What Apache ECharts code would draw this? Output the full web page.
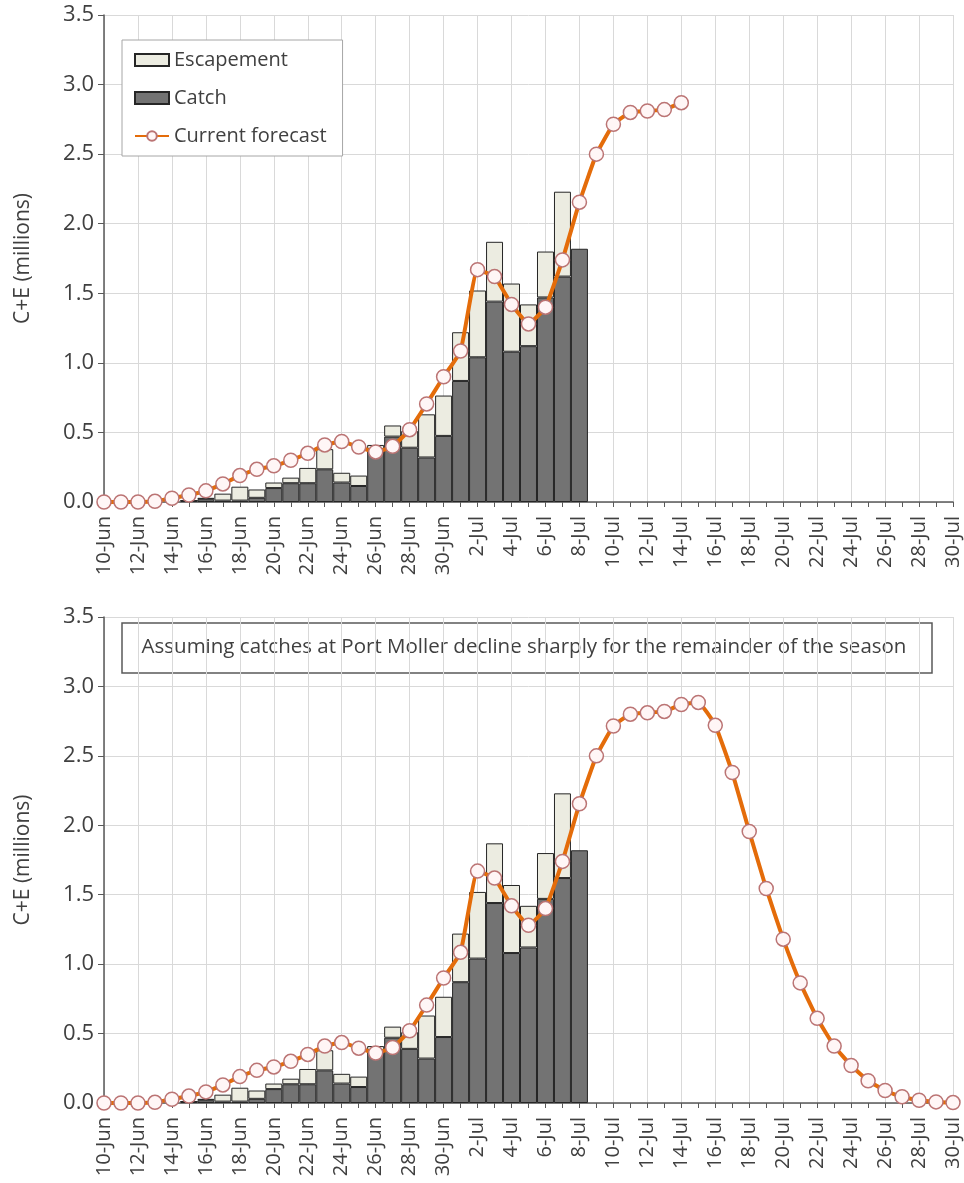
<!DOCTYPE html>
<html>
<head>
<meta charset="utf-8">
<script src="https://cdn.jsdelivr.net/npm/echarts@6/dist/echarts.min.js"></script>
<style>
  html, body { margin: 0; padding: 0; background: #fff; }
  #chart { width: 964px; height: 1183px; }
</style>
</head>
<body>
<div id="chart"></div>
<script>
const dates = [
  '10-Jun', '11-Jun', '12-Jun', '13-Jun', '14-Jun', '15-Jun', '16-Jun', '17-Jun', '18-Jun', '19-Jun',
  '20-Jun', '21-Jun', '22-Jun', '23-Jun', '24-Jun', '25-Jun', '26-Jun', '27-Jun', '28-Jun', '29-Jun',
  '30-Jun', '1-Jul', '2-Jul', '3-Jul', '4-Jul', '5-Jul', '6-Jul', '7-Jul', '8-Jul', '9-Jul',
  '10-Jul', '11-Jul', '12-Jul', '13-Jul', '14-Jul', '15-Jul', '16-Jul', '17-Jul', '18-Jul', '19-Jul',
  '20-Jul', '21-Jul', '22-Jul', '23-Jul', '24-Jul', '25-Jul', '26-Jul', '27-Jul', '28-Jul', '29-Jul',
  '30-Jul'
];

// millions of fish, 10-Jun .. 8-Jul (nothing after)
const catchVals = [
  null, null, null, null, null, 0.01, 0.02, 0.01, 0.01, 0.03,
  0.10, 0.135, 0.135, 0.235, 0.14, 0.115, 0.38, 0.47, 0.39, 0.32,
  0.475, 0.87, 1.04, 1.44, 1.08, 1.12, 1.47, 1.62, 1.82
];
const escapementVals = [
  null, null, null, null, null, 0.0, 0.01, 0.05, 0.10, 0.06,
  0.04, 0.04, 0.11, 0.145, 0.07, 0.075, 0.03, 0.08, 0.12, 0.31,
  0.29, 0.35, 0.48, 0.43, 0.49, 0.30, 0.33, 0.61, null
];

// current forecast, 10-Jun .. 14-Jul
const forecastCurrent = [
  0, 0, 0, 0.005, 0.027, 0.05, 0.08, 0.13, 0.19, 0.235,
  0.26, 0.30, 0.35, 0.41, 0.435, 0.395, 0.36, 0.40, 0.52, 0.705,
  0.90, 1.085, 1.67, 1.62, 1.42, 1.28, 1.40, 1.74, 2.155, 2.50,
  2.715, 2.80, 2.81, 2.82, 2.87
];

// forecast if Port Moller catches decline sharply, 10-Jun .. 30-Jul
const forecastDecline = [
  0, 0, 0, 0.005, 0.027, 0.05, 0.08, 0.13, 0.19, 0.235,
  0.26, 0.30, 0.35, 0.41, 0.435, 0.395, 0.36, 0.40, 0.52, 0.705,
  0.90, 1.085, 1.67, 1.62, 1.42, 1.28, 1.40, 1.74, 2.155, 2.50,
  2.715, 2.80, 2.81, 2.82, 2.87, 2.885, 2.72, 2.38, 1.955, 1.545,
  1.18, 0.865, 0.61, 0.41, 0.27, 0.16, 0.09, 0.045, 0.02, 0.008,
  0.003
];

const yTicks = [0, 0.5, 1.0, 1.5, 2.0, 2.5, 3.0, 3.5];
const noteText = 'Assuming catches at Port Moller decline sharply for the remainder of the season';

const textColor = '#404040';
const gridColor = '#d9d9d9';
const axisColor = '#595959';

const chart = echarts.init(document.getElementById('chart'), null, { renderer: 'canvas' });

function xAxisFor(gridIndex) {
  return {
    type: 'category',
    gridIndex: gridIndex,
    data: dates,
    boundaryGap: false,
    axisLine: { lineStyle: { color: axisColor, width: 1.5 } },
    axisTick: { show: true, interval: 0, length: 5, lineStyle: { color: axisColor } },
    axisLabel: { interval: 1, rotate: 90, fontSize: 20, color: textColor, margin: 14 },
    splitLine: { show: true, interval: 1, lineStyle: { color: gridColor, width: 1 } }
  };
}

function yAxisFor(gridIndex) {
  return {
    type: 'value',
    gridIndex: gridIndex,
    min: yTicks[0],
    max: yTicks[yTicks.length - 1],
    interval: 0.5,
    name: 'C+E (millions)',
    nameLocation: 'middle',
    nameGap: 70,
    nameTextStyle: { fontSize: 21, color: textColor },
    axisLine: { show: true, lineStyle: { color: axisColor, width: 1.5 } },
    axisTick: { show: true, length: 6, lineStyle: { color: axisColor } },
    axisLabel: { fontSize: 22, color: textColor, margin: 10, formatter: (v) => v.toFixed(1) },
    splitLine: { show: true, lineStyle: { color: gridColor, width: 1 } }
  };
}

function barsFor(idx) {
  return [{
    name: 'Catch',
    type: 'bar',
    stack: 'ce' + idx,
    xAxisIndex: idx,
    yAxisIndex: idx,
    data: catchVals,
    barCategoryGap: '0%',
    itemStyle: { color: '#737373', borderColor: '#262626', borderWidth: 1 },
    z: 2
  }, {
    name: 'Escapement',
    type: 'bar',
    stack: 'ce' + idx,
    xAxisIndex: idx,
    yAxisIndex: idx,
    data: escapementVals,
    barCategoryGap: '0%',
    itemStyle: { color: '#ecece1', borderColor: '#262626', borderWidth: 1 },
    z: 2
  }];
}

function lineFor(idx, values) {
  return {
    name: 'Current forecast',
    type: 'line',
    xAxisIndex: idx,
    yAxisIndex: idx,
    data: values,
    smooth: 0.12,
    symbol: 'circle',
    symbolSize: 14,
    showAllSymbol: true,
    lineStyle: { color: '#e46c0a', width: 4 },
    itemStyle: { color: '#fff6f6', borderColor: '#bb7474', borderWidth: 1.5 },
    z: 5
  };
}

const option = {
  animation: false,
  textStyle: { fontFamily: 'Open Sans' },
  grid: [
    { left: 104, right: 11, top: 15, height: 487 },
    { left: 104, right: 11, top: 617, height: 486 }
  ],
  legend: {
    orient: 'vertical',
    left: 122,
    top: 40,
    data: [
      { name: 'Escapement', icon: 'rect' },
      { name: 'Catch', icon: 'rect' },
      { name: 'Current forecast' }
    ],
    backgroundColor: '#ffffff',
    borderColor: '#a6a6a6',
    borderWidth: 1,
    padding: [10, 16, 10, 12],
    itemGap: 18,
    itemWidth: 34,
    itemHeight: 12,
    textStyle: { fontSize: 20, color: textColor },
    z: 10
  },
  graphic: [{
    type: 'group',
    z: 100,
    children: [{
      type: 'rect',
      shape: { x: 122, y: 623, width: 810, height: 50 },
      style: { fill: '#ffffff', stroke: axisColor, lineWidth: 1.5 }
    }, {
      type: 'text',
      x: 524,
      y: 647,
      style: {
        text: noteText,
        fontFamily: 'Open Sans',
        fontSize: 20.5,
        fill: textColor,
        align: 'center',
        verticalAlign: 'middle'
      }
    }]
  }],
  xAxis: [xAxisFor(0), xAxisFor(1)],
  yAxis: [yAxisFor(0), yAxisFor(1)],
  series: [
    ...barsFor(0),
    lineFor(0, forecastCurrent),
    ...barsFor(1),
    lineFor(1, forecastDecline)
  ]
};

chart.setOption(option);
</script>
</body>
</html>
